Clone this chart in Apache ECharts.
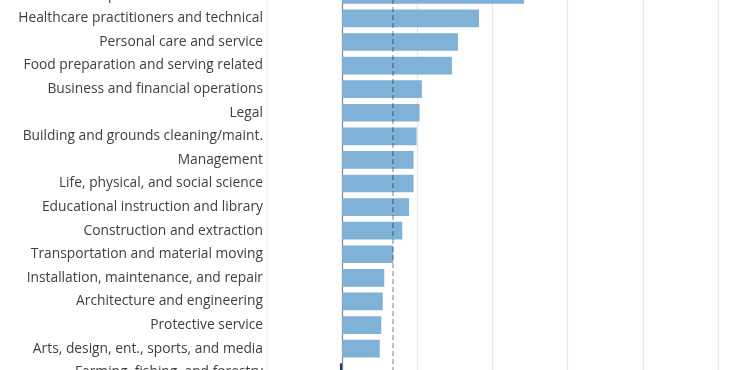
<!DOCTYPE html>
<html>
<head>
<meta charset="utf-8">
<script src="https://cdn.jsdelivr.net/npm/echarts@6/dist/echarts.min.js"></script>
<style>
html,body{margin:0;padding:0;background:#fff;overflow:hidden;width:740px;height:370px;}
#wrap{position:relative;width:740px;height:370px;overflow:hidden;}
#chart{position:absolute;left:0;top:-17.5px;width:740px;height:401px;}
</style>
</head>
<body>
<div id="wrap"><div id="chart"></div></div>
<script>
const categories = [
  "Computer and mathematical",
  "Healthcare practitioners and technical",
  "Personal care and service",
  "Food preparation and serving related",
  "Business and financial operations",
  "Legal",
  "Building and grounds cleaning/maint.",
  "Management",
  "Life, physical, and social science",
  "Educational instruction and library",
  "Construction and extraction",
  "Transportation and material moving",
  "Installation, maintenance, and repair",
  "Architecture and engineering",
  "Protective service",
  "Arts, design, ent., sports, and media",
  "Farming, fishing, and forestry"
];
const values = [24.2, 18.2, 15.4, 14.6, 10.6, 10.3, 9.9, 9.5, 9.5, 8.9, 8.0, 6.8, 5.6, 5.4, 5.2, 5.0, -0.3];
const referenceValue = 6.75;
const xTicks = [-10, 0, 10, 20, 30, 40, 50];

const chart = echarts.init(document.getElementById('chart'), null, {renderer: 'canvas'});
chart.setOption({
  animation: false,
  backgroundColor: '#ffffff',
  grid: {left: 267, right: 22, top: 0, bottom: 0, containLabel: false},
  xAxis: {
    type: 'value',
    min: xTicks[0],
    max: xTicks[xTicks.length - 1],
    interval: 10,
    axisLabel: {show: false},
    axisTick: {show: false},
    axisLine: {show: false},
    splitLine: {
      show: true,
      lineStyle: {color: ['#f4f4f4', '#8c8c8c', '#e6e6e6', '#e6e6e6', '#e6e6e6', '#e6e6e6', '#e6e6e6'], width: 1.3}
    }
  },
  yAxis: {
    type: 'category',
    data: categories,
    inverse: true,
    axisLine: {show: false},
    axisTick: {show: false},
    axisLabel: {
      color: '#404040',
      fontFamily: 'Open Sans',
      fontSize: 13.8,
      margin: 4
    }
  },
  series: [{
    type: 'bar',
    data: values,
    barCategoryGap: '25%',
    itemStyle: {
      color: function (p) { return p.value < 0 ? '#1f3d6b' : '#80b1d6'; }
    },
    markLine: {
      silent: true,
      symbol: 'none',
      label: {show: false},
      lineStyle: {color: 'rgba(0,0,0,0.25)', type: [5, 3], width: 2},
      data: [{xAxis: referenceValue}]
    }
  }]
});
</script>
</body>
</html>
